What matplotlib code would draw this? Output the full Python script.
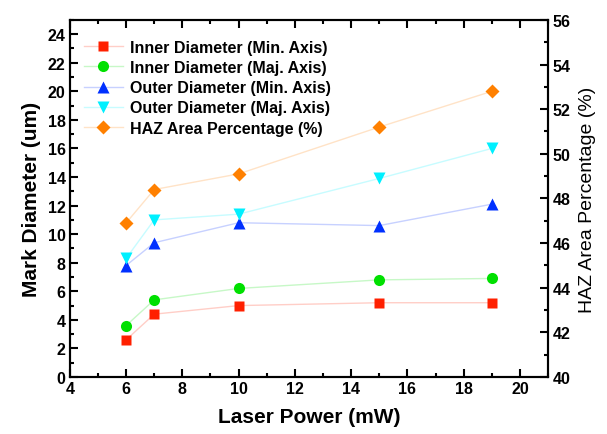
import matplotlib.pyplot as plt
from matplotlib.lines import Line2D
from matplotlib.colors import to_rgb
from matplotlib.ticker import MultipleLocator

plt.rcParams['font.family'] = ['Liberation Sans', 'DejaVu Sans']

power = [6, 7, 10, 15, 19]
inner_min = [2.6, 4.4, 5.0, 5.2, 5.2]
inner_maj = [3.6, 5.4, 6.2, 6.8, 6.9]
outer_min = [7.8, 9.4, 10.8, 10.6, 12.1]
outer_maj = [8.3, 11.0, 11.4, 13.9, 16.0]
haz = [46.9, 48.4, 49.1, 51.2, 52.8]

labels = ['Inner Diameter (Min. Axis)', 'Inner Diameter (Maj. Axis)',
          'Outer Diameter (Min. Axis)', 'Outer Diameter (Maj. Axis)',
          'HAZ Area Percentage (%)']


def light(c, f=0.78):
    r, g, b = to_rgb(c)
    return (r + (1 - r) * f, g + (1 - g) * f, b + (1 - b) * f)


fig = plt.figure(figsize=(6.07, 4.35), dpi=100)
ax = fig.add_axes([0.115, 0.131, 0.788, 0.821])
ax2 = ax.twinx()

styles = [('s', '#ff2000', 7), ('o', '#00e000', 8), ('^', '#0030ff', 8),
          ('v', '#00f0ff', 8), ('D', '#ff8000', 7)]
data = [inner_min, inner_maj, outer_min, outer_maj, haz]

handles = []
for i, (vals, (m, c, ms)) in enumerate(zip(data, styles)):
    a = ax2 if i == 4 else ax
    a.plot(power, vals, color=light(c), lw=1, marker=m, ms=ms,
           mfc=c, mec='none')
    handles.append(Line2D([], [], color=light(c), lw=1, marker=m, ms=ms,
                          mfc=c, mec='none'))

ax.legend(handles, labels, loc='upper left', frameon=False,
          prop={'weight': 'bold', 'size': 11.5}, handlelength=2.4,
          labelspacing=0.33, borderaxespad=0.5, handletextpad=0.5,
          bbox_to_anchor=(0.0, 0.985))

ax.set_xlim(4, 21)
ax.set_ylim(0, 25)
ax2.set_ylim(40, 56)

ax.set_xticks(range(4, 21, 2))
ax.set_yticks(range(0, 25, 2))
ax.xaxis.set_minor_locator(MultipleLocator(1))
ax.yaxis.set_minor_locator(MultipleLocator(1))
ax2.yaxis.set_major_locator(MultipleLocator(2))
ax2.yaxis.set_minor_locator(MultipleLocator(1))

for a in (ax, ax2):
    a.tick_params(which='both', direction='in', width=1.5)
    a.tick_params(which='major', length=6, labelsize=11.5, pad=3)
    a.tick_params(which='minor', length=3)
    for sp in a.spines.values():
        sp.set_linewidth(1.5)
ax.tick_params(which='both', top=True)
for lab in ax.get_xticklabels() + ax.get_yticklabels() + ax2.get_yticklabels():
    lab.set_fontweight('bold')

ax.set_xlabel('Laser Power (mW)', fontsize=15, fontweight='bold', labelpad=8)
ax.set_ylabel('Mark Diameter (um)', fontsize=15, fontweight='bold', labelpad=5)
ax2.set_ylabel('HAZ Area Percentage (%)', fontsize=14, labelpad=6)

fig.savefig('out.png', dpi=100)
